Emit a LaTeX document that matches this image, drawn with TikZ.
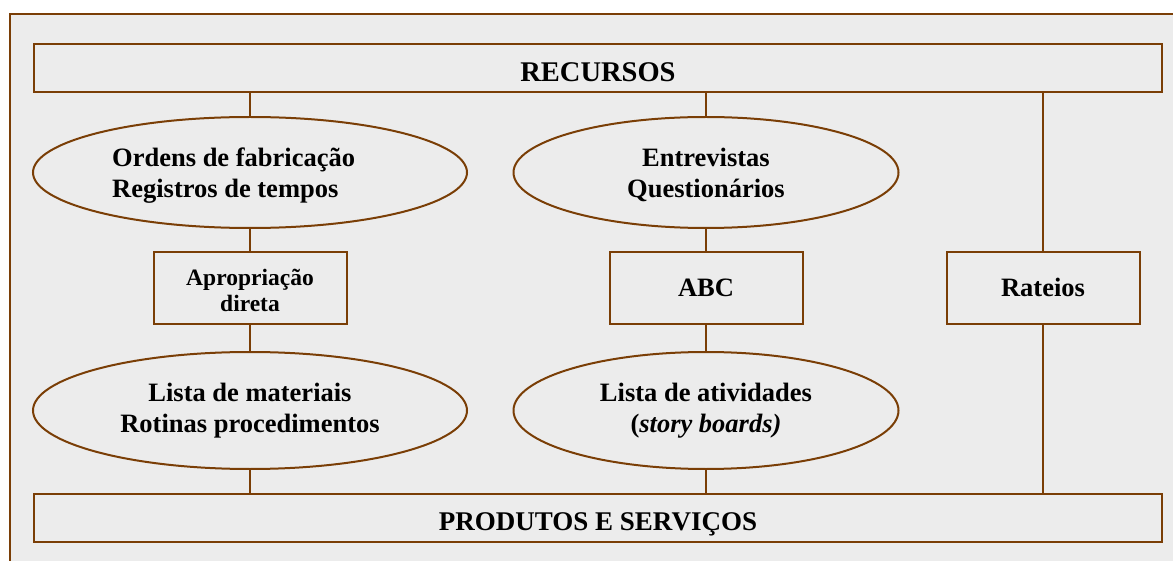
\documentclass[tikz,border=0pt]{standalone}
\usepackage{fontspec}
\setmainfont{Liberation Serif}
\usetikzlibrary{shapes.geometric}
\definecolor{brn}{RGB}{122,62,6}
\definecolor{bgc}{RGB}{236,236,236}
\begin{document}
\begin{tikzpicture}[x=1pt,y=-1pt,
  frame/.style={draw=brn,line width=1.8pt},
  bar/.style={draw=brn,line width=2pt,minimum width=1128pt,minimum height=48pt,inner sep=0pt},
  ebox/.style={draw=brn,line width=2pt,minimum width=193pt,minimum height=72pt,inner sep=0pt},
  oval/.style={ellipse,draw=brn,line width=2pt,inner sep=0pt},
  link/.style={draw=brn,line width=1.8pt},
  txt/.style={inner sep=0pt,font=\bfseries\fontsize{26.5}{31}\selectfont},
  stxt/.style={inner sep=0pt,font=\bfseries\fontsize{23.5}{26}\selectfont}]
\useasboundingbox (0,0) rectangle (1173,561);
\fill[white] (0,0) rectangle (1173,561);
\fill[bgc] (10,14) rectangle (1180,570);
\draw[frame] (1180,14) -- (10,14) -- (10,570);
% bars
\node[bar] (rec) at (598,68) {};
\node[bar] (prod) at (598,518) {};
\node[inner sep=0pt,anchor=base,font=\bfseries\fontsize{28.5}{30}\selectfont] (trec) at (598,81.7) {RECURSOS};
\node[inner sep=0pt,anchor=base,font=\bfseries\fontsize{27}{30}\selectfont] (tprod) at (598,530) {PRODUTOS E SERVIÇOS};
% ellipses
\node[oval,minimum width=434pt,minimum height=111pt] (e1) at (250,172.5) {};
\node[oval,minimum width=385pt,minimum height=111pt] (e2) at (706,172.5) {};
\node[oval,minimum width=434pt,minimum height=117pt] (e3) at (250,410.5) {};
\node[oval,minimum width=385pt,minimum height=117pt] (e4) at (706,410.5) {};
\node[txt,anchor=base west,align=left] (t1) at (112,198) {Ordens de fabricação\\Registros de tempos};
\node[txt,anchor=base,align=center] (t2) at (706,198) {Entrevistas\\Questionários};
\node[txt,anchor=base,align=center] (t3) at (250,432) {Lista de materiais\\Rotinas procedimentos};
\node[txt,anchor=base,align=center] (t4) at (706,432) {Lista de atividades\\(\textit{story boards)}};
% boxes
\node[ebox] (b1) at (250,288) {};
\node[ebox] (b2) at (706,288) {};
\node[ebox] (b3) at (1043,288) {};
\node[stxt,anchor=base,align=center] (tb1) at (250,311.7) {Apropriação\\direta};
\node[txt,anchor=base] (tb2) at (706,297) {ABC};
\node[txt,anchor=base] (tb3) at (1043,297) {Rateios};
% connectors
\draw[link] (e1.north |- rec.south) -- (e1.north);
\draw[link] (e1.south) -- (b1.north);
\draw[link] (b1.south) -- (e3.north);
\draw[link] (e3.south) -- (e3.south |- prod.north);
\draw[link] (e2.north |- rec.south) -- (e2.north);
\draw[link] (e2.south) -- (b2.north);
\draw[link] (b2.south) -- (e4.north);
\draw[link] (e4.south) -- (e4.south |- prod.north);
\draw[link] (b3.north |- rec.south) -- (b3.north);
\draw[link] (b3.south) -- (b3.south |- prod.north);
\end{tikzpicture}
\end{document}
